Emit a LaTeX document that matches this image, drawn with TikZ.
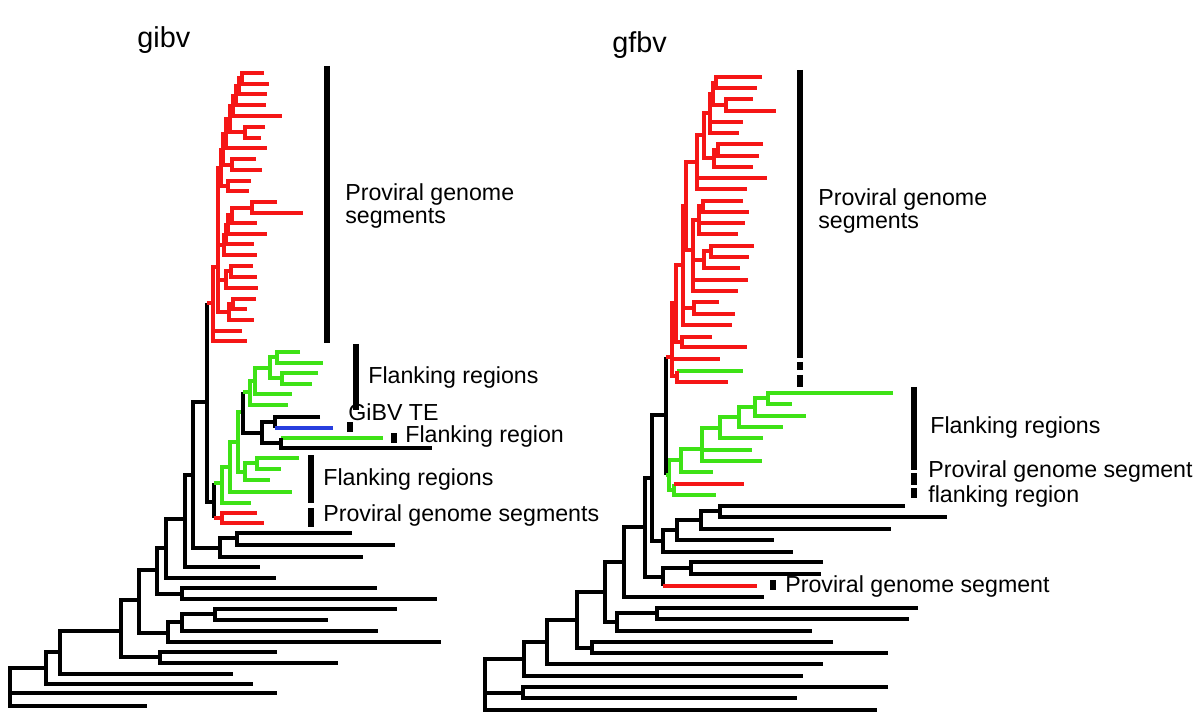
\documentclass[tikz,border=0pt]{standalone}
\usepackage{tikz}
\usepackage{fontspec}
\setmainfont{Liberation Sans}
\definecolor{cladeRed}{RGB}{245,22,22}
\definecolor{cladeGreen}{RGB}{62,226,22}
\definecolor{cladeBlue}{RGB}{40,62,222}

\begin{document}
\begin{tikzpicture}[x=0.02cm, y=-0.02cm,
  br/.style={line width=2.6pt},
  rd/.style={br, draw=cladeRed},
  gr/.style={br, draw=cladeGreen},
  bk/.style={br, draw=black},
  bl/.style={br, draw=cladeBlue},
  bar/.style={line width=3pt},
  lbl/.style={anchor=west, align=left, inner sep=0pt, font=\fontsize{13.2}{12.8}\selectfont},
  ttl/.style={anchor=base west, inner sep=0pt, font=\fontsize{16.4}{18}\selectfont}
]
\useasboundingbox (0,0) rectangle (1200,719);

% ---- gibv tree ----
% red clade
\draw[rd] (264,73) -| (242,84) -- (269,84);
\draw[rd] (242,78) -| (239,94) -- (267,94);
\draw[rd] (239,86) -| (236,105) -- (266,105);
\draw[rd] (236,96) -| (233,116) -- (282,116);
\draw[rd] (265,127) -| (245,138) -- (261,138);
\draw[rd] (233,106) -| (230,132) -- (245,132);
\draw[rd] (230,119) -| (226,148) -- (267,148);
\draw[rd] (256,159) -| (232,170) -- (262,170);
\draw[rd] (226,134) -| (223,165) -- (232,165);
\draw[rd] (251,181) -| (228,191) -- (249,191);
\draw[rd] (223,150) -| (221,186) -- (228,186);
\draw[rd] (277,202) -| (252,213) -- (303,213);
\draw[rd] (252,208) -| (232,223) -- (257,223);
\draw[rd] (232,215) -| (228,234) -- (267,234);
\draw[rd] (228,225) -| (226,244) -- (254,244);
\draw[rd] (226,235) -| (224,255) -- (257,255);
\draw[rd] (253,266) -| (231,277) -- (257,277);
\draw[rd] (231,271) -| (226,288) -- (258,288);
\draw[rd] (256,299) -| (233,309) -- (247,309);
\draw[rd] (233,304) -| (229,320) -- (254,320);
\draw[rd] (221,168) -| (218,312) -- (229,312) (218,245) -- (224,245) (218,280) -- (226,280);
\draw[rd] (218,267) -| (213,341) -- (247,341) (213,331) -- (242,331);
% green, blue and black middle
\draw[bk] (207,303) -- (207,502) -- (214,502);
\draw[rd] (207,303) -- (213,303);
\draw[bk] (214,483) -- (214,518);
\draw[gr] (214,483) -- (222,483);
\draw[rd] (214,518) -- (222,518);
\draw[rd] (257,513) -| (222,523) -- (264,523);
\draw[gr] (230,467) -| (222,503) -- (251,503);
\draw[gr] (238,442) -| (230,492) -- (292,492);
\draw[gr] (243,412) -| (238,472) -- (245,472);
\draw[gr] (257,463) -| (245,480) -- (270,480);
\draw[gr] (299,458) -| (257,469) -- (281,469);
\draw[bk] (243,392) -- (243,433) -- (262,433);
\draw[gr] (243,392) -- (250,392);
\draw[bk] (275,422) -| (262,443) -- (281,443);
\draw[bk] (320,417) -| (275,428);
\draw[bl] (275,428) -- (333,428);
\draw[gr] (281,438) -- (383,438);
\draw[bk] (281,438) |- (432,448);
\draw[gr] (255,381) -| (250,405) -- (288,405);
\draw[gr] (270,368) -| (255,394) -- (292,394);
\draw[gr] (277,357) -| (270,378) -- (282,378);
\draw[gr] (300,352) -| (277,363) -- (323,363);
\draw[gr] (318,373) -| (282,384) -- (312,384);
% black backbone
\draw[bk] (46,668) -| (10,706) -- (147,706) (10,693) -- (277,693);
\draw[bk] (60,652) -| (46,684) -- (253,684);
\draw[bk] (121,631) -| (60,674) -- (233,674);
\draw[bk] (139,600) -| (121,657) -- (160,657);
\draw[bk] (277,652) -| (160,663) -- (338,663);
\draw[bk] (157,570) -| (139,633) -- (168,633);
\draw[bk] (182,622) -| (168,642) -- (441,642);
\draw[bk] (215,614) -| (182,631) -- (378,631);
\draw[bk] (397,609) -| (215,620) -- (328,620);
\draw[bk] (166,548) -| (157,594) -- (182,594);
\draw[bk] (377,588) -| (182,599) -- (437,599);
\draw[bk] (185,519) -| (166,578) -- (276,578);
\draw[bk] (193,475) -| (185,567) -- (260,567);
\draw[bk] (207,402) -| (193,548) -- (220,548);
\draw[bk] (237,538) -| (220,557) -- (363,557);
\draw[bk] (352,533) -| (237,545) -- (395,545);

% ---- gfbv tree ----
% red clade
\draw[rd] (762,77) -| (716,88) -- (757,88);
\draw[rd] (753,99) -| (726,111) -- (776,111);
\draw[rd] (716,83) -| (713,105) -- (726,105);
\draw[rd] (713,94) -| (710,133) -- (739,133) (710,122) -- (743,122);
\draw[rd] (763,144) -| (718,156) -- (759,156);
\draw[rd] (718,150) -| (714,167) -- (753,167);
\draw[rd] (710,113) -| (704,158) -- (714,158);
\draw[rd] (704,135) -| (697,189) -- (747,189) (697,178) -- (767,178);
\draw[rd] (743,201) -| (703,212) -- (749,212);
\draw[rd] (703,206) -| (699,234) -- (738,234) (699,223) -- (745,223);
\draw[rd] (754,246) -| (711,257) -- (749,257);
\draw[rd] (711,251) -| (704,268) -- (740,268);
\draw[rd] (699,220) -| (693,291) -- (738,291) (693,260) -- (704,260) (693,280) -- (748,280);
\draw[rd] (697,162) -| (686,250) -- (693,250);
\draw[rd] (719,302) -| (694,314) -- (735,314);
\draw[rd] (686,206) -| (683,325) -- (732,325) (683,308) -- (694,308);
\draw[rd] (712,337) -| (682,347) -- (747,347);
\draw[rd] (683,265) -| (676,342) -- (682,342);
\draw[rd] (676,303) -| (672,376) -- (677,376) (672,359) -- (720,359);
\draw[gr] (677,371) -- (743,371);
\draw[rd] (677,371) |- (728,382);
% green clade
\draw[gr] (893,393) -| (768,404) -- (792,404);
\draw[gr] (768,398) -| (755,416) -- (806,416);
\draw[gr] (755,407) -| (739,427) -- (783,427);
\draw[gr] (739,417) -| (720,438) -- (763,438);
\draw[gr] (720,428) -| (702,461) -- (762,461) (702,450) -- (752,450);
\draw[gr] (702,449) -| (681,472) -- (713,472);
\draw[gr] (681,460) -| (669,490) -- (674,490);
\draw[gr] (674,484) |- (716,495);
\draw[rd] (674,484) -- (744,484);
% black backbone
\draw[bk] (666,357) -- (666,475);
\draw[rd] (666,357) -- (672,357);
\draw[gr] (666,475) -- (669,475);
\draw[bk] (666,415) -| (652,541) -- (663,541);
\draw[bk] (905,506) -| (720,517) -- (947,517);
\draw[bk] (720,511) -| (701,529) -- (891,529);
\draw[bk] (701,520) -| (677,540) -- (774,540);
\draw[bk] (677,530) -| (663,552) -- (793,552);
\draw[bk] (823,562) -| (691,574) -- (821,574);
\draw[bk] (691,568) -| (663,586);
\draw[rd] (663,586) -- (757,586);
\draw[bk] (652,478) -| (645,577) -- (663,577);
\draw[bk] (645,527) -| (624,597) -- (764,597);
\draw[bk] (918,608) -| (657,619) -- (909,619);
\draw[bk] (657,613) -| (617,631) -- (812,631);
\draw[bk] (624,562) -| (605,622) -- (617,622);
\draw[bk] (833,642) -| (592,653) -- (888,653);
\draw[bk] (605,592) -| (577,648) -- (592,648);
\draw[bk] (577,620) -| (547,664) -- (823,664);
\draw[bk] (547,642) -| (524,676) -- (803,676);
\draw[bk] (888,687) -| (523,698) -- (797,698);
\draw[bk] (524,659) -| (485,710) -- (877,710) (485,693) -- (523,693);

% ---- bars ----
\draw[bar] (327,66) -- (327,343) (356,344) -- (356,410) (350,422) -- (350,432)
  (394,433) -- (394,443) (311,455) -- (311,503) (311,508) -- (311,527);
\draw[bar] (800,70) -- (800,358) (800,362) -- (800,370) (800,375) -- (800,387)
  (914,387) -- (914,470) (914,473) -- (914,485) (914,488) -- (914,498)
  (773,580) -- (773,590);

% ---- labels ----
\node[ttl] (tgibv) at (137,48) {gibv};
\node[ttl] (tgfbv) at (612,53) {gfbv};
\node[lbl] (lprov) at (345,206) {Proviral genome\\segments};
\node[lbl] (lflank) at (368,378) {Flanking regions};
\node[lbl] (lte) at (348,412) {GiBV TE};
\node[lbl] (lflankone) at (405,437) {Flanking region};
\node[lbl] (lflanklow) at (323,480) {Flanking regions};
\node[lbl] (lprovlow) at (323,516) {Proviral genome segments};
\node[lbl] (rprov) at (818,211) {Proviral genome\\segments};
\node[lbl] (rflank) at (930,428) {Flanking regions};
\node[lbl] (rprovseg) at (928,472) {Proviral genome segment};
\node[lbl] (rflankone) at (928,497) {flanking region};
\node[lbl] (rprovlow) at (785,587) {Proviral genome segment};
\end{tikzpicture}
\end{document}
